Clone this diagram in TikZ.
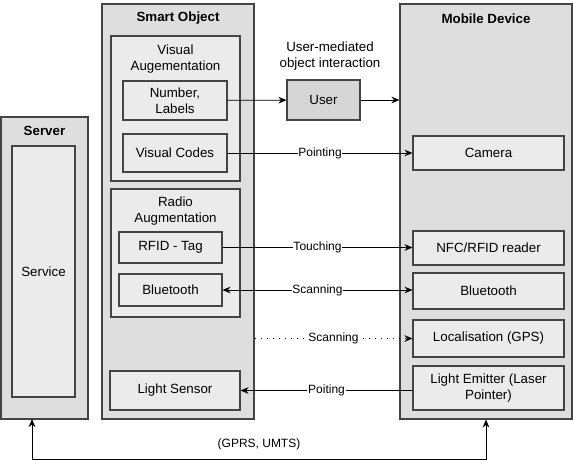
\documentclass[tikz,border=0pt]{standalone}
\usepackage{fontspec}
\setmainfont{Liberation Sans}
\usepackage{xcolor}
\usepackage{tikz}
\usetikzlibrary{arrows.meta,positioning}
\definecolor{so_outer}{RGB}{222, 222, 222}
\definecolor{so_inner}{RGB}{235, 235, 235}
\definecolor{so_user}{RGB}{214, 214, 214}
\definecolor{so_line}{RGB}{68, 68, 68}

\begin{document}
\begin{tikzpicture}[
  x=0.75pt,y=-0.75pt,
  font=\fontsize{10}{12}\selectfont,
  group/.style={draw=so_line,fill=so_outer,line width=0.8pt,inner sep=0pt},
  part/.style={draw=so_line,fill=so_inner,line width=0.8pt,text centered,align=center,inner sep=1pt},
  title/.style={font=\fontsize{10}{12}\selectfont\bfseries},
  arrow/.style={-{Stealth[length=6pt,width=5pt]},line width=0.6pt},
  biarrow/.style={{Stealth[length=6pt,width=5pt]}-{Stealth[length=6pt,width=5pt]},line width=0.6pt},
  lbl/.style={font=\fontsize{9}{11}\selectfont,fill=white,inner sep=0.5pt,midway}
]
\useasboundingbox (0,0) rectangle (573,460);
% containers
\node[group,minimum width=65.25pt,minimum height=226.5pt] (server) at (44.5,268) {};
\node[title] at (44.5,131) {Server};
\node[part,minimum width=47.25pt,minimum height=188.25pt] (service) at (43.5,271.5) {Service};
\node[group,minimum width=114pt,minimum height=311.25pt] (smart) at (178,211.5) {};
\node[title] at (178,18.5) {Smart Object};
\node[group,minimum width=129pt,minimum height=311.25pt] (mobile) at (486,211.5) {};
\node[title] at (486,18.5) {Mobile Device};
% smart object parts
\node[part,minimum width=96.75pt,minimum height=108.75pt] (visaug) at (175.5,108.5) {};
\node[align=center] at (175.5,59) {Visual\\Augementation};
\node[part,minimum width=78pt,minimum height=29.25pt] (labels) at (175,100.5) {Number,\\Labels};
\node[part,minimum width=78pt,minimum height=28.5pt] (vcodes) at (175,153) {Visual Codes};
\node[part,minimum width=96.75pt,minimum height=96pt] (radaug) at (175.5,253) {};
\node[align=center] at (175.5,211) {Radio\\Augmentation};
\node[part,minimum width=77.25pt,minimum height=23.25pt] (rfid) at (170.5,247.5) {RFID - Tag};
\node[part,minimum width=77.25pt,minimum height=24pt] (btso) at (170.5,290) {Bluetooth};
\node[part,minimum width=97.5pt,minimum height=29.25pt] (sensor) at (175,390.5) {Light Sensor};
% user
\node[part,fill=so_user,minimum width=54.75pt,minimum height=30pt] (user) at (323.5,100) {User};
\node[align=center] at (330,56) {User-mediated\\object interaction};
% mobile device parts
\node[part,minimum width=113.25pt,minimum height=25.5pt] (camera) at (488.5,153) {Camera};
\node[part,minimum width=113.25pt,minimum height=25.5pt] (nfc) at (488.5,248) {NFC/RFID reader};
\node[part,minimum width=113.25pt,minimum height=27pt] (btmd) at (488.5,291) {Bluetooth};
\node[part,minimum width=113.25pt,minimum height=27.75pt] (gps) at (488.5,338.5) {Localisation (GPS)};
\node[part,minimum width=113.25pt,minimum height=33pt] (laser) at (488.5,388) {Light Emitter (Laser\\Pointer)};
% connectors
\draw[arrow] (labels) -- (user);
\draw[arrow] (user) -- (user -| mobile.west);
\draw[arrow] (vcodes) -- node[lbl] {Pointing} (camera);
\draw[arrow] (rfid.east) -- node[lbl] {Touching} (rfid.east -| nfc.west);
\draw[biarrow] (btso.east) -- node[lbl] {Scanning} (btso.east -| btmd.west);
\draw[arrow,line width=1.2pt,dash pattern=on 1.4pt off 3.1pt] (smart.east |- gps) -- node[lbl,inner xsep=3pt] {Scanning} (gps);
\draw[arrow] (laser.west |- sensor) -- node[lbl] {Poiting} (sensor.east);
\coordinate (srvfoot) at (32,419);
\coordinate (buspt) at (32,459);
\draw[biarrow] (srvfoot) -- (buspt) -- node[above=3pt,font=\fontsize{9}{11}\selectfont] {(GPRS, UMTS)} (buspt -| mobile.south) -- (mobile.south);
\end{tikzpicture}
\end{document}
